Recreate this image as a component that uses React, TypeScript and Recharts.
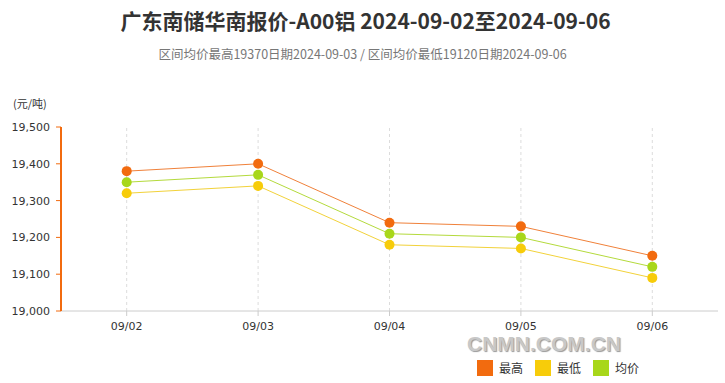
import { LineChart, Line, XAxis, YAxis, ReferenceLine } from 'recharts'

const dates = ['09/02', '09/03', '09/04', '09/05', '09/06']
const highs = [19380, 19400, 19240, 19230, 19150]
const lows = [19320, 19340, 19180, 19170, 19090]
const avgs = [19350, 19370, 19210, 19200, 19120]
const yTicks = [19000, 19100, 19200, 19300, 19400, 19500]

const data = dates.map((d, i) => ({ date: d, high: highs[i], low: lows[i], avg: avgs[i] }))

const series = [
  { key: 'high', name: '最高', color: '#f26b0f', line: '#f0813a' },
  { key: 'low', name: '最低', color: '#f7cc0a', line: '#f2d23a' },
  { key: 'avg', name: '均价', color: '#a8d71a', line: '#b4da3c' },
]

const tickFont = { fontSize: 11, fill: '#333', fontFamily: 'DejaVu Sans' }

export default function App() {
  return (
    <div style={{ position: 'absolute', left: 0, top: 0, width: 725, height: 383, background: '#fff' }}>
      <div
        style={{
          position: 'absolute', left: 3, top: 5, width: 725, textAlign: 'center',
          fontFamily: '"Noto Sans CJK SC"', fontWeight: 700, fontSize: 21, color: '#333',
        }}
      >
        广东南储华南报价-A00铝 2024-09-02至2024-09-06
      </div>
      <div
        style={{
          position: 'absolute', left: 0, top: 44, width: 725, textAlign: 'center',
          fontFamily: '"Noto Sans CJK SC"', fontSize: 12.5, color: '#777',
        }}
      >
        区间均价最高19370日期2024-09-03 / 区间均价最低19120日期2024-09-06
      </div>
      <div
        style={{
          position: 'absolute', left: 13, top: 95, fontFamily: '"Noto Sans CJK SC"', fontSize: 11, color: '#333',
        }}
      >
        (元/吨)
      </div>
      <LineChart width={725} height={383} data={data} margin={{ top: 127, right: 7, bottom: 42, left: 0 }}>
        {dates.map((d) => (
          <ReferenceLine key={d} x={d} stroke="#dcdcdc" strokeDasharray="3 3" />
        ))}
        <XAxis
          dataKey="date"
          scale="band"
          tick={tickFont}
          tickLine={{ stroke: '#ccc' }}
          tickSize={5}
          axisLine={{ stroke: '#ccc' }}
          tickMargin={6}
        />
        <YAxis
          domain={[19000, 19500]}
          ticks={yTicks}
          width={61}
          tick={tickFont}
          tickLine={{ stroke: '#f26b0f' }}
          tickSize={5}
          tickMargin={6}
          axisLine={{ stroke: '#f26b0f', strokeWidth: 2 }}
          tickFormatter={(v: number) => v.toLocaleString('en-US')}
        />
        {series.map((s) => (
          <Line
            key={s.key}
            type="linear"
            dataKey={s.key}
            stroke={s.line}
            strokeWidth={1}
            dot={{ r: 5, fill: s.color, stroke: 'none' }}
            isAnimationActive={false}
          />
        ))}
      </LineChart>
      <div
        style={{
          position: 'absolute', left: 467, top: 332, fontFamily: '"Liberation Sans"', fontWeight: 700,
          fontSize: 21, color: '#c8c8c8', textShadow: '1px 1px 1px #999',
        }}
      >
        CNMN.COM.CN
      </div>
      <div style={{ position: 'absolute', left: 477, top: 359, display: 'flex', fontFamily: '"Noto Sans CJK SC"', fontSize: 12, color: '#333' }}>
        {series.map((s) => (
          <div key={s.key} style={{ display: 'flex', alignItems: 'center', marginRight: 12 }}>
            <div style={{ width: 16, height: 16, background: s.color, marginRight: 6 }} />
            <span>{s.name}</span>
          </div>
        ))}
      </div>
    </div>
  )
}
